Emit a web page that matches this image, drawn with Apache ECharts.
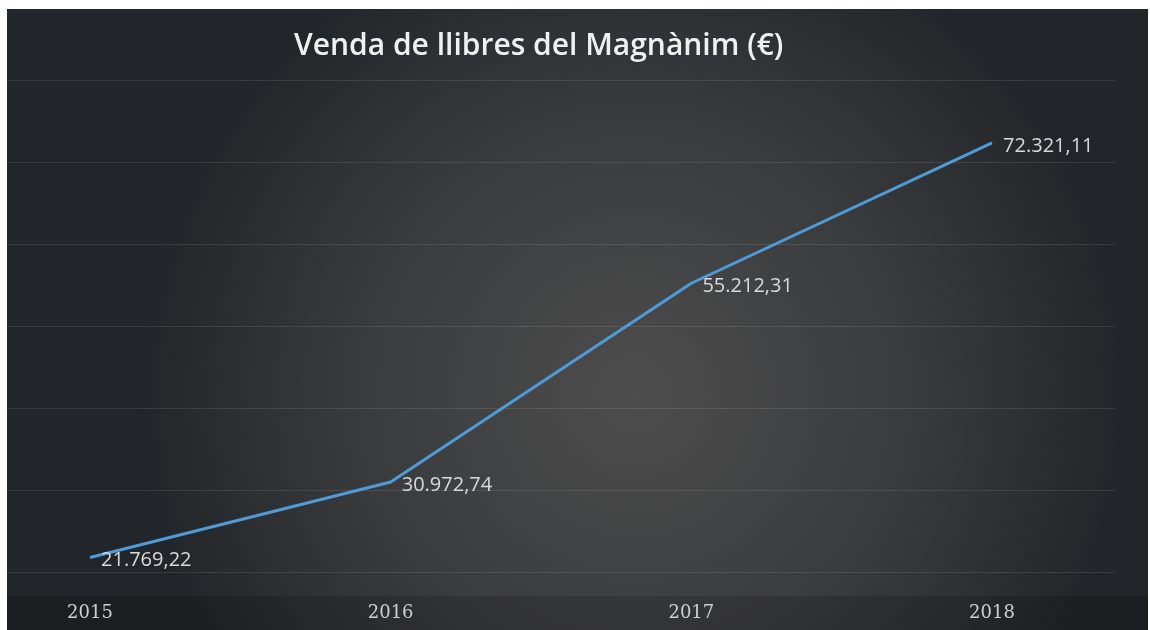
<!DOCTYPE html>
<html>
<head>
<meta charset="utf-8">
<script src="https://cdn.jsdelivr.net/npm/echarts@6/dist/echarts.min.js"></script>
<style>
  html, body { margin: 0; padding: 0; background: #fff; }
  #chart { position: absolute; left: 7px; top: 9px; width: 1141px; height: 621px; }
</style>
</head>
<body>
<div id="chart"></div>
<script>
const years = ['2015', '2016', '2017', '2018']
const sales = [21769.22, 30972.74, 55212.31, 72321.11]

const fmt = v => {
  const [i, d] = v.toFixed(2).split('.')
  return i.replace(/\B(?=(\d{3})+(?!\d))/g, '.') + ',' + d
}

const chart = echarts.init(document.getElementById('chart'))
chart.setOption({
  backgroundColor: {
    type: 'radial', x: 0.55, y: 0.62, r: 0.8,
    colorStops: [
      { offset: 0, color: '#4d4d4d' },
      { offset: 0.55, color: '#3a3b3d' },
      { offset: 1, color: '#222529' }
    ]
  },
  title: {
    text: 'Venda de llibres del Magnànim (€)',
    left: 282, top: 17,
    textStyle: { color: '#f0f0f0', fontFamily: 'Open Sans', fontSize: 30, fontWeight: 600 }
  },
  graphic: [{
    type: 'rect', left: 0, top: 587, z: -1,
    shape: { width: 1141, height: 34 },
    style: { fill: 'rgba(0,0,0,0.15)' }
  }],
  grid: { left: 0, right: 33, top: 71, bottom: 58 },
  xAxis: {
    type: 'value', min: -0.276, max: 3.409,
    axisLine: { show: false }, axisTick: { show: false }, splitLine: { show: false },
    axisLabel: {
      customValues: years.map((y, i) => i),
      formatter: v => years[Math.round(v)],
      color: '#cfcfcf', fontFamily: 'DejaVu Serif', fontSize: 18, margin: 32
    }
  },
  yAxis: {
    type: 'value', min: 20000, max: 80000, interval: 10000,
    axisLabel: { show: false }, axisLine: { show: false }, axisTick: { show: false },
    splitLine: { lineStyle: { color: 'rgba(255,255,255,0.1)', width: 1 } }
  },
  series: [{
    type: 'line',
    data: sales.map((v, i) => [i, v]),
    symbol: 'circle', symbolSize: 0.1,
    itemStyle: { color: '#4f9bd8' },
    lineStyle: { color: '#4f9bd8', width: 3 },
    label: {
      show: true, position: 'right', distance: 11, offset: [0, 3],
      formatter: p => fmt(p.value[1]),
      color: '#d9d9d9', fontFamily: 'Open Sans', fontSize: 20
    }
  }]
})
</script>
</body>
</html>
